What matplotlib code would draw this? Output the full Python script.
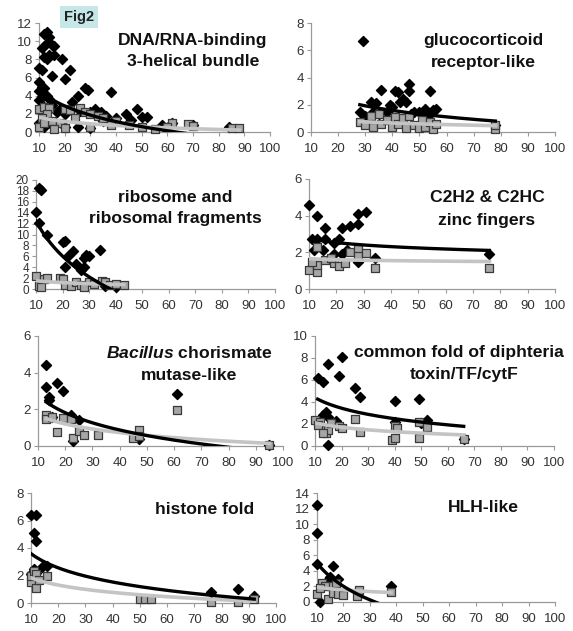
import numpy as np
import matplotlib.pyplot as plt

plt.rcParams['font.family'] = ['Liberation Sans', 'DejaVu Sans']
plt.rcParams['mathtext.fontset'] = 'custom'
plt.rcParams['mathtext.bfit'] = 'Liberation Sans:italic:bold'
plt.rcParams['mathtext.rm'] = 'Liberation Sans'

W, H = 573, 631

# DNA/RNA-binding 3-helical bundle
dna_black_x = [13, 12, 14, 13, 15, 16, 11, 14, 12, 10, 11, 13, 16, 19, 22, 20, 15, 10, 11, 12,
               10, 13, 11, 10, 14, 25, 28, 29, 38, 48, 23, 30, 32, 34, 36, 44, 50, 52, 40, 46,
               58, 62, 70, 84, 35, 20, 26, 18, 12, 15, 17, 10, 12, 15, 20, 25, 30]
dna_black_y = [11, 10.8, 10.5, 9.8, 9.6, 9.5, 9.2, 8.5, 8.3, 7, 6.8, 8, 8.5, 8, 6.8, 5.8, 6.2, 5.5, 5, 4.8,
               4.5, 4, 3.8, 3.5, 3.6, 4, 4.8, 4.6, 4.4, 2.5, 3.3, 2.2, 2.5, 2.2, 1.8, 2, 1.7, 1.6, 1.5, 1.3,
               0.8, 1.0, 0.8, 0.5, 1.2, 2, 2.3, 2.5, 2.7, 3, 2.2, 1, 0.5, 0.8, 0.5, 0.6, 0.4]
dna_grey_x = [10, 12, 14, 13, 11, 15, 20, 22, 26, 28, 30, 33, 24, 18, 35, 40, 10, 16, 20, 45,
              50, 55, 62, 68, 70, 85, 88, 60, 30, 38, 12]
dna_grey_y = [2.5, 2.8, 2.6, 2, 1.5, 1.2, 2.5, 2.4, 2.6, 2.2, 2, 1.8, 1.5, 1, 1.5, 1.2, 0.5, 0.3, 0.4, 0.8,
              0.5, 0.3, 1.0, 0.9, 0.7, 0.4, 0.4, 0.6, 0.5, 0.8, 1.0]
dna_black_fit = (-2.49, 10.33)
dna_grey_fit = (-0.64, 3.08)

# glucocorticoid receptor-like
glu_black_x = [29, 28, 32, 34, 36, 39, 41, 42, 43, 44, 45, 46, 46, 54, 48, 50, 52, 55, 38, 40,
               35, 33, 47, 53, 56, 30, 78]
glu_black_y = [6.7, 1.5, 2.2, 2.1, 3.1, 2.0, 3.0, 2.9, 2.2, 2.4, 2.2, 3.5, 3.0, 3.0, 1.5, 1.5, 1.7, 1.6, 1.5, 1.8,
               1.3, 1.5, 1.3, 1.2, 1.7, 1.2, 0.5]
glu_grey_x = [28, 30, 32, 33, 35, 36, 38, 40, 41, 42, 44, 45, 46, 48, 50, 51, 52, 54, 55, 56, 78, 78]
glu_grey_y = [0.7, 0.5, 1.2, 0.4, 1.3, 0.6, 0.9, 0.4, 1.1, 0.6, 1.0, 0.3, 1.2, 0.5, 0.3, 0.9, 0.4, 0.7, 0.2, 0.6, 0.2, 0.5]
glu_black_fit = (-1.17, 5.90)
glu_grey_fit = (-0.29, 1.73)

# ribosome and ribosomal fragments
rib_black_x = [10, 11, 12, 11, 14, 20, 21, 21, 24, 22, 25, 28, 28, 29, 30, 34, 27, 36, 40]
rib_black_y = [14.1, 18.5, 18.2, 12.2, 10, 8.6, 8.8, 4, 7, 6, 4.5, 4, 5.6, 6.2, 6, 7.2, 3.5, 0.5, 0.3]
rib_grey_x = [10, 11, 13, 14, 12, 19, 20, 21, 23, 25, 27, 30, 32, 35, 36, 38, 40, 43, 28]
rib_grey_y = [2.4, 0.5, 1.8, 2.0, 0.3, 2.1, 1.8, 0.7, 0.5, 1.2, 0.8, 1.3, 1, 1.5, 1.2, 0.8, 1, 0.7, 0.3]
rib_black_fit = (-9.36, 34.06)
rib_grey_fit = (-0.48, 2.61)

# C2H2 & C2HC zinc fingers
zinc_black_x = [10, 13, 16, 22, 25, 28, 28, 31, 11, 13, 16, 19, 21, 24, 12, 15, 19, 22, 34, 76, 28]
zinc_black_y = [4.6, 4.0, 3.35, 3.3, 3.45, 4.1, 3.55, 4.2, 2.7, 2.7, 2.7, 2.5, 2.7, 2.1, 2.1, 2.1, 1.9, 1.9, 1.7, 1.9, 1.5]
zinc_grey_x = [10, 13, 13, 13, 11, 16, 19, 21, 23, 25, 28, 28, 31, 34, 76, 18]
zinc_grey_y = [1.05, 0.95, 1.3, 2.3, 1.5, 1.6, 1.4, 1.25, 1.4, 2.0, 2.2, 1.8, 1.95, 1.15, 1.15, 1.7]
zinc_black_fit = (-0.32, 3.49)
zinc_grey_fit = (-0.074, 1.82)

# Bacillus chorismate mutase-like
bac_black_x = [13, 13, 14, 17, 19, 14, 22, 25, 61, 23, 47, 15, 95]
bac_black_y = [4.4, 3.2, 2.7, 3.45, 3.0, 2.5, 1.7, 1.4, 2.85, 0.3, 0.4, 1.6, 0.05]
bac_grey_x = [13, 13, 15, 17, 19, 22, 23, 25, 27, 32, 45, 47, 47, 61, 95]
bac_grey_y = [1.7, 1.5, 1.6, 0.75, 1.55, 1.45, 0.45, 0.8, 0.6, 0.6, 0.45, 0.85, 0.55, 1.95, 0.05]
bac_black_fit = (-1.36, 5.89)
bac_grey_fit = (-0.68, 3.24)

# common fold of diphteria toxin/TF/cytF
dip_black_x = [11, 13, 15, 19, 20, 25, 27, 40, 49, 14, 15, 18, 40, 52, 15, 50, 13, 66]
dip_black_y = [6.2, 5.8, 7.5, 6.4, 8.1, 5.3, 4.5, 4.1, 4.3, 3.1, 2.6, 2.3, 2.2, 2.4, 0.05, 2.1, 2.8, 0.6]
dip_grey_x = [10, 12, 13, 14, 15, 16, 19, 20, 25, 27, 39, 40, 40, 41, 49, 49, 52, 66, 11, 13]
dip_grey_y = [2.4, 2.2, 1.5, 1.2, 1.5, 2.1, 1.8, 1.6, 2.5, 1.3, 0.55, 0.75, 1.8, 1.6, 0.75, 2.2, 1.7, 0.6, 1.9, 1.2]
dip_black_fit = (-1.38, 7.57)
dip_grey_fit = (-0.58, 3.44)

# histone fold
his_black_x = [10, 12, 11, 12, 14, 16, 11, 10, 76, 86, 92, 12]
his_black_y = [6.4, 6.4, 5.1, 4.5, 2.6, 2.7, 2.5, 2.1, 0.8, 1.0, 0.5, 2.2]
his_grey_x = [10, 10, 11, 12, 12, 16, 50, 52, 54, 76, 86, 92, 13]
his_grey_y = [1.5, 2.0, 2.3, 1.1, 2.1, 1.95, 0.3, 0.3, 0.3, 0.1, 0.05, 0.3, 1.7]
his_black_fit = (-1.49, 7.02)
his_grey_fit = (-0.77, 3.61)

# HLH-like
hlh_black_x = [10, 10, 10, 11, 16, 18, 15, 38, 13, 17]
hlh_black_y = [12.5, 8.8, 4.9, 0.05, 4.6, 2.9, 3.2, 2.0, 2.5, 2.2]
hlh_grey_x = [10, 12, 14, 15, 16, 17, 18, 20, 25, 26, 38, 13, 11]
hlh_grey_y = [1.0, 2.5, 0.4, 2.0, 1.2, 2.5, 1.0, 0.9, 0.8, 1.5, 1.3, 2.0, 1.8]
hlh_black_fit = (-4.3, 14.9)
hlh_grey_fit = (-0.52, 3.11)


def px_box(left, right, top, bottom):
    return [left / W, 1 - bottom / H, (right - left) / W, (bottom - top) / H]


def draw_panel(ax, bx, by, gx, gy, bfit, gfit, ymax, ystep, ysize=9.5):
    ax.scatter(bx, by, marker='D', s=26, color='black', zorder=3, clip_on=False)
    ax.scatter(gx, gy, marker='s', s=30, facecolor='#a6a6a6', edgecolor='#3a3a3a',
               linewidths=0.9, zorder=4, clip_on=False)
    xs = np.linspace(min(bx), max(bx), 200)
    ax.plot(xs, bfit[0] * np.log(xs) + bfit[1], color='black', lw=2.4, zorder=6)
    xs = np.linspace(min(gx), max(gx), 200)
    ax.plot(xs, gfit[0] * np.log(xs) + gfit[1], color='#c4c4c4', lw=2.6, zorder=5)
    ax.set_xlim(10, 100)
    ax.set_ylim(0, ymax)
    ax.set_xticks(range(10, 101, 10))
    ax.set_yticks(np.arange(0, ymax + 0.1, ystep))
    for s in ['top', 'right']:
        ax.spines[s].set_visible(False)
    for s in ['left', 'bottom']:
        ax.spines[s].set_color('#9a9a9a')
        ax.spines[s].set_linewidth(0.9)
    ax.tick_params(axis='both', colors='#9a9a9a', length=3, width=0.8, labelcolor='#333333')
    ax.tick_params(axis='x', labelsize=9.5, pad=5)
    ax.tick_params(axis='y', labelsize=ysize, pad=2)
    ax.patch.set_alpha(0)


fig = plt.figure(figsize=(W / 100, H / 100), dpi=100)

panels = [
    (px_box(39, 270, 23, 132), dna_black_x, dna_black_y, dna_grey_x, dna_grey_y, dna_black_fit, dna_grey_fit, 12, 2, 9.5),
    (px_box(311, 555, 23, 132), glu_black_x, glu_black_y, glu_grey_x, glu_grey_y, glu_black_fit, glu_grey_fit, 8, 2, 9.5),
    (px_box(36, 275, 180, 289), rib_black_x, rib_black_y, rib_grey_x, rib_grey_y, rib_black_fit, rib_grey_fit, 20, 2, 8.5),
    (px_box(309, 555, 179, 289), zinc_black_x, zinc_black_y, zinc_grey_x, zinc_grey_y, zinc_black_fit, zinc_grey_fit, 6, 2, 9.5),
    (px_box(38, 283, 336, 446), bac_black_x, bac_black_y, bac_grey_x, bac_grey_y, bac_black_fit, bac_grey_fit, 6, 2, 9.5),
    (px_box(315, 554, 336, 446), dip_black_x, dip_black_y, dip_grey_x, dip_grey_y, dip_black_fit, dip_grey_fit, 10, 2, 9.5),
    (px_box(31, 276, 493, 603), his_black_x, his_black_y, his_grey_x, his_grey_y, his_black_fit, his_grey_fit, 8, 2, 9.5),
    (px_box(317, 555, 493, 602), hlh_black_x, hlh_black_y, hlh_grey_x, hlh_grey_y, hlh_black_fit, hlh_grey_fit, 14, 2, 9.5),
]

for box, bx, by, gx, gy, bfit, gfit, ymax, ystep, ysize in panels:
    ax = fig.add_axes(box)
    draw_panel(ax, bx, by, gx, gy, bfit, gfit, ymax, ystep, ysize)


def label(x, y, s, **kw):
    fig.text(x / W, 1 - y / H, s, ha='center', va='center', fontsize=12.6,
             fontweight='bold', color='#111111', **kw)


label(193, 41, 'DNA/RNA-binding')
label(193, 62, '3-helical bundle')
label(483, 41, 'glucocorticoid')
label(483, 63, 'receptor-like')
label(175, 197, 'ribosome and')
label(175, 219, 'ribosomal fragments')
label(487, 198, 'C2H2 & C2HC')
label(487, 221, 'zinc fingers')
label(189, 353, r'$\mathbfit{Bacillus}$ chorismate')
label(189, 375, 'mutase-like')
label(459, 353, 'common fold of diphteria')
label(464, 375, 'toxin/TF/cytF')
label(205, 510, 'histone fold')
label(483, 508, 'HLH-like')

fig.text(64 / W, 1 - 17 / H, 'Fig2', ha='left', va='center', fontsize=10.5,
         fontweight='bold', color='#222222',
         bbox=dict(boxstyle='square,pad=0.25', facecolor='#c6e7e7', edgecolor='none'))

fig.savefig('out.png', dpi=100)
